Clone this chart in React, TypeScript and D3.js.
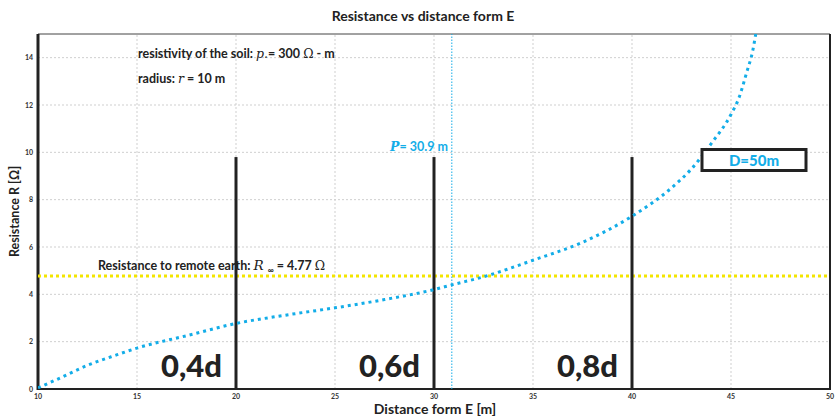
import { useMemo } from 'react';
import * as d3 from 'd3';

// curve (distance from E [m], resistance [Ω])
const distance = [10, 11, 12.5, 14, 15, 17.5, 20, 22.5, 25, 27.5, 30, 30.9, 32.5, 35, 37.5, 40, 42, 43, 44, 45, 45.4, 45.8, 46.1, 46.25];
const resistance = [0.05, 0.42, 1.0, 1.45, 1.73, 2.25, 2.77, 3.12, 3.43, 3.78, 4.2, 4.4, 4.74, 5.44, 6.2, 7.3, 8.5, 9.3, 10.37, 11.6, 12.3, 13.4, 14.3, 15.0];

const xTicks = [10, 15, 20, 25, 30, 35, 40, 45, 50];
const yTicks = [0, 2, 4, 6, 8, 10, 12, 14];

// probe positions (fractions of d) and their labels
const probeX = [20, 30, 40];
const probeLabels = ['0,4d', '0,6d', '0,8d'];
const probeTop = 9.8;

const rInf = 4.77;
const pPos = 30.9;

const W = 836;
const H = 417;
const margin = { top: 35, right: 4, bottom: 28, left: 38 };

export default function App() {
  const x = d3.scaleLinear().domain([10, 50]).range([margin.left, W - margin.right - 2]);
  const y = d3.scaleLinear().domain([0, 15]).range([H - margin.bottom, margin.top - 1]);

  const pts = distance.map((d, i) => [d, resistance[i]] as [number, number]);
  const line = d3.line<[number, number]>()
    .x(d => x(d[0]))
    .y(d => y(d[1]))
    .curve(d3.curveMonotoneX);
  const path = useMemo(() => line(pts), []);

  const blue = '#13ade8';
  const font = 'Lato, "Open Sans", sans-serif';
  const serif = "'DejaVu Serif', serif";

  return (
    <svg width={W} height={H} style={{ position: 'absolute', left: 0, top: 0 }} fontFamily={font}>
      <rect width={W} height={H} fill="#fff" />
      <defs>
        <clipPath id="plot">
          <rect x={x(10)} y={y(15)} width={x(50) - x(10)} height={y(0) - y(15)} />
        </clipPath>
      </defs>

      {/* title */}
      <text x={423} y={21} textAnchor="middle" fontSize={14} fontWeight="bold" fill="#222">
        Resistance vs distance form E
      </text>

      {/* grid */}
      {xTicks.slice(1, -1).map(t => (
        <line key={'gx' + t} x1={x(t)} x2={x(t)} y1={y(0)} y2={y(15)} stroke="#cfcfcf" strokeWidth={1} strokeDasharray="2 2" />
      ))}
      {yTicks.slice(1).map(t => (
        <line key={'gy' + t} x1={x(10)} x2={x(50)} y1={y(t)} y2={y(t)} stroke="#cfcfcf" strokeWidth={1} strokeDasharray="2 2" />
      ))}

      {/* frame */}
      <line x1={x(10)} x2={x(50)} y1={y(15)} y2={y(15)} stroke="#444" strokeWidth={1} />
      <line x1={x(50)} x2={x(50)} y1={y(15)} y2={y(0)} stroke="#222" strokeWidth={2} />
      <line x1={x(10) - 1} x2={x(50) + 1} y1={y(0)} y2={y(0)} stroke="#222" strokeWidth={2} />
      <line x1={x(10)} x2={x(10)} y1={y(15)} y2={y(0) + 1} stroke="#222" strokeWidth={3} />

      {/* tick labels */}
      {xTicks.map(t => (
        <text key={'tx' + t} x={x(t)} y={y(0) + 10} textAnchor="middle" fontSize={7} fontWeight="bold" fill="#333">{t}</text>
      ))}
      {yTicks.map(t => (
        <text key={'ty' + t} x={x(10) - 5} y={y(t) + 2.5} textAnchor="end" fontSize={7} fontWeight="bold" fill="#333">{t}</text>
      ))}

      {/* axis titles */}
      <text x={435} y={414} textAnchor="middle" fontSize={14} fontWeight="bold" fill="#222">Distance form E [m]</text>
      <text transform={`translate(19,${y(7.5)}) rotate(-90)`} textAnchor="middle" fontSize={12.5} fontWeight="bold" fill="#222">
        Resistance R [Ω]
      </text>

      {/* remote earth level */}
      <line x1={x(10)} x2={x(50)} y1={y(rInf)} y2={y(rInf)} stroke="#f3e500" strokeWidth={3} strokeDasharray="3 3" />
      <text x={98} y={y(rInf) - 6} fontSize={12.5} fontWeight="bold" fill="#222">
        Resistance to remote earth:{' '}
        <tspan fontFamily={serif} fontStyle="italic" fontWeight="normal" fontSize={13.5}>R</tspan>
        <tspan fontSize={8} dx={4} dy={3}>∞</tspan>
        <tspan dy={-3}> = 4.77 </tspan>
        <tspan fontFamily={serif} fontWeight="normal">Ω</tspan>
      </text>

      {/* P position */}
      <line x1={x(pPos)} x2={x(pPos)} y1={y(0)} y2={y(15)} stroke={blue} strokeWidth={1} strokeDasharray="1.5 1.5" />
      <text x={390} y={151} fontSize={12.5} fontWeight="bold" fill={blue}>
        <tspan fontFamily={serif} fontStyle="italic">P</tspan>= 30.9 m
      </text>

      {/* probe markers */}
      {probeX.map((p, i) => (
        <g key={'p' + p}>
          <line x1={x(p)} x2={x(p)} y1={y(0)} y2={y(probeTop)} stroke="#222" strokeWidth={3} />
          <text x={x(p) - 14} y={y(0) - 12} textAnchor="end" fontSize={31} fontWeight="900" fill="#222">{probeLabels[i]}</text>
        </g>
      ))}

      {/* resistance curve */}
      <path d={path ?? ''} clipPath="url(#plot)" fill="none" stroke={blue} strokeWidth={3} strokeDasharray="3 4" />

      {/* info text */}
      <text x={138} y={58} fontSize={12.5} fontWeight="bold" fill="#222">
        resistivity of the soil: <tspan fontFamily={serif} fontStyle="italic" fontWeight="normal">p.</tspan>= 300{' '}
        <tspan fontFamily={serif} fontWeight="normal">Ω</tspan> - m
      </text>
      <text x={138} y={83} fontSize={12.5} fontWeight="bold" fill="#222">
        radius: <tspan fontFamily={serif} fontStyle="italic" fontWeight="normal">r</tspan> = 10 m
      </text>

      {/* D box */}
      <rect x={702} y={149.5} width={104} height={21} fill="#fff" stroke="#222" strokeWidth={3} />
      <text x={754} y={165.5} textAnchor="middle" fontSize={15} fontWeight="900" fill={blue}>D=50m</text>
    </svg>
  );
}
